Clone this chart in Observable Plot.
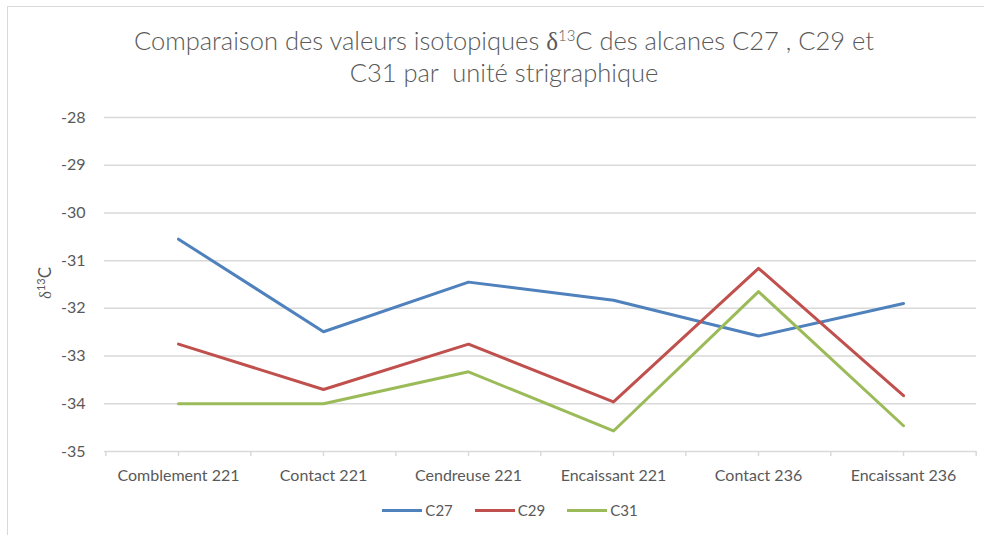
<!DOCTYPE html>
<html>
<head>
<meta charset="utf-8">
<script src="https://cdn.jsdelivr.net/npm/d3@7"></script>
<script src="https://cdn.jsdelivr.net/npm/@observablehq/plot@0.6"></script>
<style>
  html, body { margin: 0; padding: 0; background: #fff; }
  #wrap { position: relative; width: 987px; height: 535px; overflow: hidden; font-family: Lato, "Open Sans", sans-serif; color: #595959; }
  #border { position: absolute; left: 7px; top: 6px; width: 976px; height: 600px; border-top: 1px solid #d9d9d9; border-left: 1px solid #d9d9d9; }
  #title { position: absolute; left: 0; top: 25px; width: 1008px; text-align: center; font-size: 25.5px; line-height: 31px; font-weight: 300; color: #595959; }
  #title sup { font-size: 15px; vertical-align: 9px; line-height: 0; }
  #title .d { font-family: "Liberation Serif", serif; font-size: 25px; }
  #ylabel { position: absolute; left: 45px; top: 283px; transform: translate(-50%, -50%) rotate(-90deg); font-size: 17px; white-space: nowrap; color: #595959; }
  #ylabel sup { font-size: 11px; vertical-align: 6px; line-height: 0; }
  #ylabel .d { font-family: "Liberation Serif", serif; font-size: 17px; }
  #chart { position: absolute; left: 0; top: 100px; }
  #legend { position: absolute; left: 0; top: 501px; width: 1020px; display: flex; justify-content: center; font-size: 15px; }
  .item { display: flex; align-items: center; margin: 0 11px; }
  .sw { display: inline-block; width: 40px; height: 3px; margin-right: 3px; }
</style>
</head>
<body>
<div id="wrap">
  <div id="border"></div>
  <div id="title">Comparaison des valeurs isotopiques <span class="d">δ</span><sup>13</sup>C des alcanes C27 , C29 et<br>C31 par&nbsp; unité strigraphique</div>
  <div id="chart"></div>
  <div id="ylabel"><span class="d">δ</span><sup>13</sup>C</div>
  <div id="legend"></div>
</div>
<script>
const categories = ["Comblement 221", "Contact 221", "Cendreuse 221", "Encaissant 221", "Contact 236", "Encaissant 236"];
const series = ["C27", "C29", "C31"];
const c27 = [-30.55, -32.49, -31.45, -31.83, -32.58, -31.9];
const c29 = [-32.75, -33.7, -32.75, -33.96, -31.16, -33.83];
const c31 = [-34.0, -34.0, -33.33, -34.57, -31.65, -34.46];
const yTicks = [-28, -29, -30, -31, -32, -33, -34, -35];
const colors = ["#4F81BD", "#C0504D", "#9BBB59"];

const values = [c27, c29, c31];
const data = [];
series.forEach((s, i) => categories.forEach((c, j) => data.push({series: s, category: c, value: values[i][j]})));

const width = 987, marginLeft = 104, marginRight = 11;
const step = (width - marginLeft - marginRight) / categories.length;
const gridStyle = {stroke: "#d9d9d9", strokeOpacity: 1, strokeWidth: 1.5};

const chart = Plot.plot({
  width, height: 400,
  marginLeft, marginRight, marginTop: 17, marginBottom: 49,
  x: {type: "point", domain: categories, padding: 0.5},
  y: {domain: [-35, -28]},
  color: {domain: series, range: colors},
  style: {fontFamily: "Lato, 'Open Sans', sans-serif", fontSize: "16px", color: "#595959", background: "transparent", overflow: "visible"},
  marks: [
    Plot.ruleY(yTicks, {stroke: "#d9d9d9", strokeWidth: 1.5}),
    Plot.axisY({ticks: yTicks, tickSize: 0, tickPadding: 19, tickFormat: d => String(d), label: null, fill: "#595959", fontSize: 16}),
    Plot.axisX({ticks: categories, tickSize: 5, tickPadding: 13, label: null, ...gridStyle, fill: "#595959", fontSize: 16}),
    Plot.axisX({ticks: categories, tickSize: 5, tickFormat: () => "", label: null, ...gridStyle, dx: -step / 2}),
    Plot.axisX({ticks: categories.slice(-1), tickSize: 5, tickFormat: () => "", label: null, ...gridStyle, dx: step / 2}),
    Plot.line(data, {x: "category", y: "value", z: "series", stroke: "series", strokeWidth: 3, strokeLinejoin: "round", strokeLinecap: "round"})
  ]
});
document.getElementById("chart").appendChild(chart);

const legend = document.getElementById("legend");
series.forEach((s, i) => {
  const item = document.createElement("div");
  item.className = "item";
  const sw = document.createElement("span");
  sw.className = "sw";
  sw.style.background = colors[i];
  item.appendChild(sw);
  item.appendChild(document.createTextNode(s));
  legend.appendChild(item);
});
</script>
</body>
</html>
